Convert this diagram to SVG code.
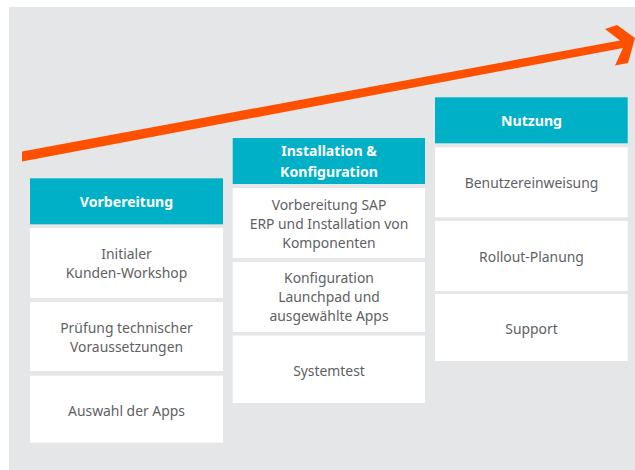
<svg xmlns="http://www.w3.org/2000/svg" width="635" height="470" viewBox="0 0 635 470">
<style>
.b{fill:#fff}
.h{fill:#00b0c7}
.t{font-family:"Noto Sans","Liberation Sans",sans-serif;font-size:13.900px;fill:#606163;text-anchor:middle}
.ht{font-family:"Noto Sans","Liberation Sans",sans-serif;font-size:14.100px;font-weight:700;fill:#fff;text-anchor:middle}
</style>
<rect x="0" y="0" width="635" height="470" fill="#fff"/>
<rect x="9" y="7" width="626" height="463" fill="#e5e6e8"/>
<g id="connectors">
<polygon points="22,151.500 620,40.500 605,29 617,25 635,38 628,63 615,65.500 623,48 22,161.500" fill="#ff5000"/>
</g>
<g id="vorbereitung">
<rect class="h" x="30" y="178.300" width="193" height="46"/>
<text class="ht" x="126.500" y="207">Vorbereitung</text>
</g>
<g id="workshop">
<rect class="b" x="30" y="228" width="193" height="70"/>
<text class="t" x="126.500" y="259">Initialer</text>
<text class="t" x="126.500" y="278">Kunden-Workshop</text>
</g>
<g id="pruefung">
<rect class="b" x="30" y="302" width="193" height="69"/>
<text class="t" x="126.500" y="333">Prüfung technischer</text>
<text class="t" x="126.500" y="352">Voraussetzungen</text>
</g>
<g id="auswahl">
<rect class="b" x="30" y="375.700" width="193" height="67"/>
<text class="t" x="126.500" y="416">Auswahl der Apps</text>
</g>
<g id="installation">
<rect class="h" x="232.700" y="138" width="192.300" height="46"/>
<text class="ht" x="329" y="156">Installation &amp;</text>
<text class="ht" x="329" y="177">Konfiguration</text>
</g>
<g id="sap">
<rect class="b" x="232.700" y="188" width="192.300" height="70"/>
<text class="t" x="329" y="210">Vorbereitung SAP</text>
<text class="t" x="329" y="229">ERP und Installation von</text>
<text class="t" x="329" y="248">Komponenten</text>
</g>
<g id="launchpad">
<rect class="b" x="232.700" y="262" width="192.300" height="70"/>
<text class="t" x="329" y="283">Konfiguration</text>
<text class="t" x="329" y="302">Launchpad und</text>
<text class="t" x="329" y="321">ausgewählte Apps</text>
</g>
<g id="systemtest">
<rect class="b" x="232.700" y="335.500" width="192.300" height="67.500"/>
<text class="t" x="329" y="376">Systemtest</text>
</g>
<g id="nutzung">
<rect class="h" x="435" y="97.300" width="192.700" height="46"/>
<text class="ht" x="531.500" y="126">Nutzung</text>
</g>
<g id="benutzer">
<rect class="b" x="435" y="147.300" width="192.700" height="70"/>
<text class="t" x="531.500" y="188">Benutzereinweisung</text>
</g>
<g id="rollout">
<rect class="b" x="435" y="221" width="192.700" height="70"/>
<text class="t" x="531.500" y="262">Rollout-Planung</text>
</g>
<g id="support">
<rect class="b" x="435" y="294" width="192.700" height="67"/>
<text class="t" x="531.500" y="334">Support</text>
</g>
</svg>
